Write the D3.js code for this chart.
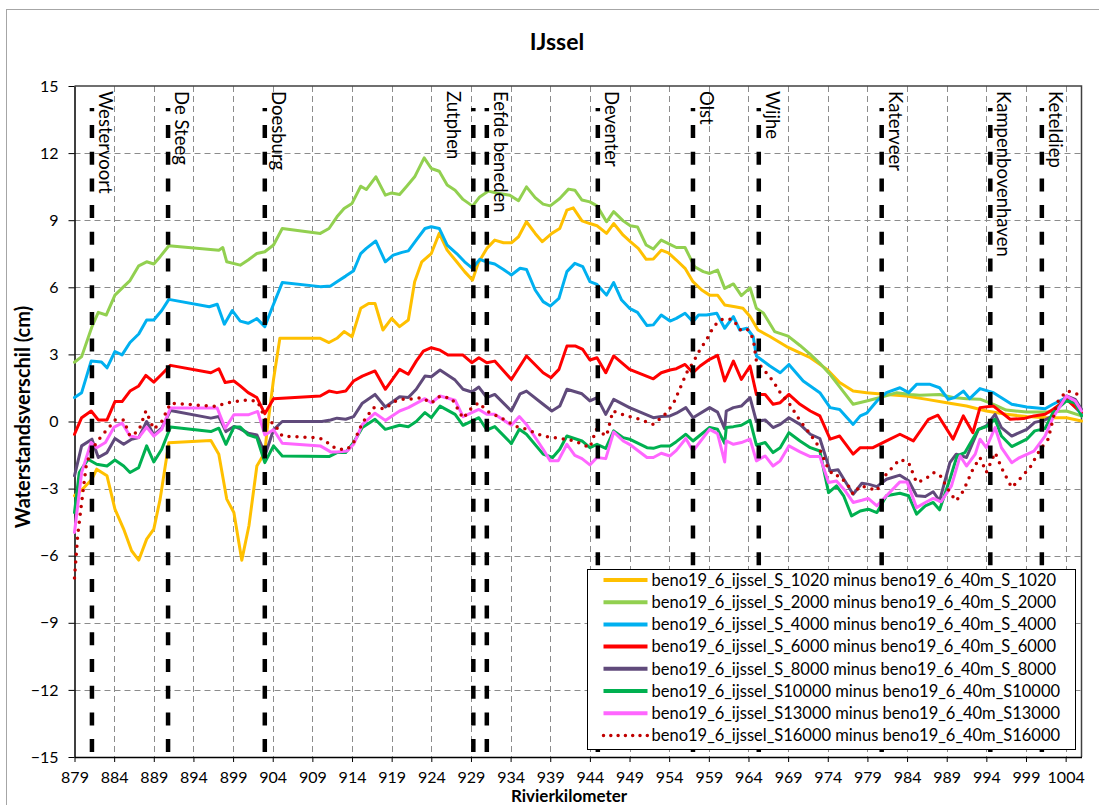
<!DOCTYPE html>
<html>
<head>
<meta charset="utf-8">
<script src="https://cdn.jsdelivr.net/npm/d3@7"></script>
<style>
  body { margin: 0; background: #fff; }
  text { font-family: Lato, "Liberation Sans", sans-serif; fill: #000; }
</style>
</head>
<body>
<svg id="chart" width="1099" height="805"></svg>
<script>
// Tick labels
const xTicks = d3.range(879, 1005, 5);
const yTicks = d3.range(-15, 16, 3);

// Locations along the river (km)
const stationNames = ["Westervoort", "De Steeg", "Doesburg", "Zutphen", "Eefde beneden", "Deventer",
    "Olst", "Wijhe", "Katerveer", "Kampenbovenhaven", "Keteldiep"];
const stationKm = [881.2, 890.8, 903.0, 929.3, 931.0, 945.0, 957.0, 965.3, 980.8, 994.5, 1001.0];

const seriesNames = [
    "beno19_6_ijssel_S_1020 minus beno19_6_40m_S_1020",
    "beno19_6_ijssel_S_2000 minus beno19_6_40m_S_2000",
    "beno19_6_ijssel_S_4000 minus beno19_6_40m_S_4000",
    "beno19_6_ijssel_S_6000 minus beno19_6_40m_S_6000",
    "beno19_6_ijssel_S_8000 minus beno19_6_40m_S_8000",
    "beno19_6_ijssel_S10000 minus beno19_6_40m_S10000",
    "beno19_6_ijssel_S13000 minus beno19_6_40m_S13000",
    "beno19_6_ijssel_S16000 minus beno19_6_40m_S16000"
];
const seriesColors = ["#FFC000", "#92D050", "#00B0F0", "#FF0000", "#604A7B", "#00B050", "#FF66FF", "#C00000"];

// [rivierkilometer, waterstandsverschil (cm)]
const s1020 = [[879.0,-3.32],[880.0,-3.03],[881.2,-2.58],[881.8,-2.13],[883.1,-2.43],[884.1,-3.92],[885.2,-4.81],
    [886.2,-5.78],[887.1,-6.2],[888.1,-5.26],[889.0,-4.81],[889.8,-3.47],[890.9,-0.95],[896.2,-0.85],[897.2,-1.46],
    [898.2,-3.47],[899.1,-4.07],[900.1,-6.2],[901.0,-4.66],[902.0,-1.99],[903.0,-1.39],[903.3,-0.35],[904.1,1.88],
    [904.9,3.72],[910.0,3.72],[911.1,3.53],[912.1,3.72],[913.0,4.02],[914.0,3.79],[915.1,5.06],[916.1,5.28],
    [916.9,5.28],[917.9,4.09],[919.0,4.61],[920.0,4.24],[921.1,4.54],[921.9,6.25],[922.8,7.14],[924.0,7.51],
    [925.0,8.41],[926.0,7.66],[927.2,7.14],[928.2,6.70],[929.2,6.32],[929.9,7.07],[931.0,7.74],[932.0,8.11],
    [933.1,7.99],[934.1,7.99],[935.0,8.26],[936.0,8.93],[937.1,8.41],[938.0,8.04],[939.2,8.41],[940.2,8.63],
    [941.1,9.45],[941.9,9.55],[943.0,8.97],[944.0,8.85],[944.9,8.75],[946.1,8.41],[947.0,8.85],[948.2,8.33],
    [949.1,8.04],[950.1,7.74],[951.1,7.25],[952.0,7.26],[953.0,7.66],[953.9,7.54],[954.9,7.22],[956.0,6.85],
    [957.0,6.25],[958.1,5.88],[959.1,5.65],[960.1,5.65],[961.0,5.21],[962.3,5.13],[963.3,5.06],[964.2,4.69],
    [965.2,4.09],[966.7,3.80],[968.8,3.35],[970.9,3.0],[971.8,2.85],[973.9,2.33],[975.5,1.74],[977.2,1.36],
    [978.9,1.29],[981.4,1.21],[983.9,1.14],[986.5,0.99],[989.0,0.84],[991.5,0.69],[994.0,0.47],[996.5,0.32],
    [999.1,0.22],[1001.6,0.17],[1004.1,0.17],[1006.0,0.02]];
const s2000 = [[879.0,2.65],[879.9,2.9],[881.2,4.24],[882.0,4.88],[883.0,4.76],[884.1,5.65],[885.2,6.03],[886.0,6.3],
    [887.1,6.96],[888.1,7.14],[889.0,7.04],[889.8,7.37],[890.9,7.86],[897.2,7.66],[897.7,7.78],[898.2,7.14],
    [899.9,6.99],[900.9,7.22],[902.0,7.51],[903.0,7.59],[904.1,7.89],[905.2,8.63],[910.0,8.41],[911.1,8.63],
    [912.1,9.15],[913.0,9.52],[914.0,9.75],[915.1,10.52],[915.8,10.37],[917.0,10.94],[918.2,10.12],[919.0,10.22],
    [920.0,10.15],[920.9,10.52],[921.9,10.94],[923.1,11.79],[924.0,11.31],[925.0,11.19],[926.0,10.57],[927.0,10.34],
    [928.0,9.93],[929.2,9.63],[930.1,10.04],[931.2,10.30],[932.2,10.22],[933.9,10.12],[935.0,9.87],[936.0,10.49],
    [937.1,10.01],[938.1,9.72],[939.0,9.64],[940.2,9.97],[941.3,10.39],[942.1,10.34],[943.0,9.90],[944.0,9.82],
    [944.9,9.64],[946.1,8.93],[947.0,9.38],[948.2,8.97],[949.1,8.75],[950.0,8.70],[951.1,7.89],[952.0,7.71],
    [953.0,8.11],[954.1,7.92],[954.9,7.78],[956.0,7.78],[957.2,6.92],[958.3,6.70],[959.1,6.62],[960.1,6.77],
    [961.0,5.95],[962.1,6.15],[963.1,5.63],[964.2,5.98],[965.0,5.06],[965.9,4.84],[967.3,4.02],[969.0,3.82],
    [970.5,3.4],[971.8,3.0],[973.0,2.6],[974.3,2.1],[975.5,1.55],[977.2,0.77],[978.9,0.92],[980.6,1.07],
    [982.7,1.29],[984.4,1.21],[985.6,1.17],[988.1,1.21],[989.8,1.07],[991.5,1.02],[993.2,1.0],[994.9,0.77],
    [996.5,0.51],[999.1,0.42],[1001.6,0.42],[1004.1,0.47],[1006.0,0.25]];
const s4000 = [[879.0,1.07],[879.9,1.29],[881.1,2.70],[882.4,2.66],[883.1,2.40],[884.1,3.13],[885.0,2.98],[886.0,3.53],
    [887.1,3.91],[888.1,4.54],[889.0,4.54],[890.0,4.96],[890.9,5.46],[896.0,5.13],[897.0,5.24],[897.9,4.35],
    [898.9,4.96],[899.9,4.49],[900.9,4.39],[902.0,4.60],[903.0,4.24],[903.9,5.06],[905.2,6.21],[910.0,6.03],
    [911.3,6.06],[912.1,6.25],[913.2,6.50],[914.2,6.74],[915.1,7.51],[915.8,7.74],[917.0,8.07],[918.2,7.14],
    [919.2,7.44],[920.3,7.56],[921.1,7.63],[922.1,8.11],[923.2,8.63],[924.0,8.71],[925.0,8.63],[926.0,7.89],
    [927.2,7.51],[928.2,7.14],[929.2,6.85],[930.1,7.25],[931.2,7.11],[932.0,7.04],[933.1,6.80],[934.1,6.55],
    [935.2,6.85],[936.0,6.80],[937.1,5.88],[938.1,5.36],[939.0,5.16],[940.1,5.51],[941.1,6.70],[942.1,7.07],
    [943.1,6.92],[944.0,6.25],[944.9,6.13],[946.1,5.65],[947.0,6.21],[948.0,5.43],[949.0,5.06],[950.0,4.88],
    [951.2,4.29],[952.0,4.32],[953.0,4.76],[954.1,4.49],[954.9,4.61],[956.0,4.84],[957.0,4.46],[957.7,4.76],
    [958.7,4.76],[960.0,4.84],[961.0,4.17],[962.1,4.69],[962.9,4.09],[963.8,4.17],[964.6,3.79],[965.0,2.93],
    [966.7,2.48],[968.0,2.18],[969.1,2.55],[970.9,1.81],[973.0,1.29],[974.3,0.62],[975.5,0.54],[977.2,-0.13],
    [978.1,0.25],[978.9,0.37],[980.2,0.92],[981.4,1.29],[983.1,1.51],[984.2,1.29],[985.2,1.66],[986.9,1.66],
    [988.1,1.51],[989.2,0.99],[990.0,1.07],[991.1,1.36],[991.9,1.02],[993.2,1.47],[994.9,1.29],[997.2,0.77],
    [999.1,0.65],[1001.4,0.57],[1002.4,0.77],[1004.1,1.07],[1006.0,0.32]];
const s6000 = [[879.0,-0.57],[879.9,0.17],[881.1,0.47],[882.0,0.07],[883.1,0.07],[884.1,0.89],[885.0,0.89],[886.0,1.36],
    [887.1,1.59],[888.0,2.06],[889.0,1.76],[890.0,2.11],[891.1,2.51],[896.2,2.18],[897.2,2.36],[898.0,1.74],
    [899.1,1.81],[899.9,1.59],[900.9,1.29],[902.0,1.07],[903.0,0.35],[904.1,1.02],[910.0,1.14],[911.1,1.36],
    [912.1,1.29],[913.2,1.36],[914.2,1.81],[915.3,2.03],[916.9,2.26],[918.2,1.44],[920.0,2.33],[921.1,2.11],
    [922.1,2.70],[923.0,3.15],[924.0,3.30],[925.1,3.19],[926.1,2.97],[928.0,2.97],[929.1,2.63],[930.0,2.85],
    [931.0,2.63],[932.0,2.70],[934.1,1.88],[936.0,2.93],[938.1,2.18],[939.1,1.96],[940.1,2.33],[941.1,3.37],
    [942.2,3.37],[943.1,3.22],[944.0,2.75],[944.9,2.85],[946.0,2.18],[947.0,2.93],[949.0,2.33],[952.0,1.91],
    [953.0,2.18],[954.1,2.30],[954.9,2.36],[956.0,2.55],[957.0,2.18],[957.9,2.48],[959.1,2.78],[960.1,2.96],
    [961.0,1.81],[962.1,2.70],[963.1,1.88],[964.2,2.48],[965.0,1.21],[966.1,1.21],[967.1,0.77],[968.0,0.84],
    [969.1,1.21],[970.5,0.77],[971.8,0.47],[973.0,0.25],[974.3,-0.79],[975.5,-0.65],[977.2,-1.46],[978.1,-1.17],
    [979.7,-1.17],[981.4,-0.87],[983.1,-0.57],[984.8,-0.87],[986.7,0.10],[987.9,0.28],[989.8,-0.79],[991.1,0.25],
    [992.3,-0.5],[993.2,0.62],[994.9,0.69],[997.0,0.10],[998.7,0.13],[1000.0,0.25],[1001.4,0.32],[1002.4,0.54],
    [1004.1,0.99],[1006.0,0.40]];
const s8000 = [[879.0,-2.43],[879.9,-1.09],[881.2,-0.79],[882.0,-1.61],[883.1,-1.39],[884.1,-0.76],[885.2,-1.02],
    [886.2,-0.79],[887.1,-0.72],[888.1,0.00],[889.0,-0.60],[890.0,-0.30],[891.1,0.49],[896.2,0.15],[897.2,0.22],
    [898.1,-0.45],[899.1,-0.22],[899.9,-0.33],[900.9,-0.52],[902.0,-0.60],[902.8,-1.24],[903.0,-1.54],[904.1,-0.37],
    [905.2,0.00],[910.2,0.00],[911.3,0.07],[912.1,0.15],[913.2,0.10],[914.2,0.22],[915.3,0.82],[916.9,1.21],
    [918.2,0.65],[920.0,1.11],[921.1,1.07],[922.1,1.44],[923.2,2.03],[924.0,2.00],[925.1,2.30],[927.0,1.85],
    [928.0,1.44],[929.1,1.32],[930.0,1.54],[931.0,1.07],[932.0,1.21],[934.1,0.47],[935.2,1.24],[936.0,1.36],
    [938.1,0.77],[939.2,0.47],[940.2,0.69],[941.1,1.44],[943.0,1.24],[944.0,0.92],[944.9,1.07],[946.0,0.32],
    [947.0,0.99],[949.0,0.62],[952.0,0.17],[953.0,0.22],[954.1,0.25],[954.9,0.37],[956.1,0.62],[957.0,0.17],
    [959.1,0.62],[960.1,0.42],[961.0,-0.32],[961.2,0.47],[962.1,0.62],[963.1,0.69],[964.2,1.07],[965.0,0.00],
    [966.1,0.07],[967.1,-0.27],[968.0,-0.13],[969.1,0.17],[970.5,-0.13],[971.8,-0.57],[973.0,-0.76],[974.3,-2.21],
    [975.3,-2.16],[977.2,-3.25],[978.3,-2.76],[979.1,-2.80],[980.2,-2.91],[981.4,-2.58],[983.1,-2.40],[984.2,-2.65],
    [985.2,-3.32],[986.3,-3.35],[987.3,-3.14],[988.1,-3.55],[989.4,-1.84],[990.2,-1.46],[991.5,-1.61],[993.0,-0.35],
    [994.0,-0.20],[995.1,0.32],[995.9,-0.27],[997.2,-0.65],[999.1,-0.35],[1000.1,-0.04],[1001.4,0.07],[1002.4,0.25],
    [1004.1,1.14],[1005.2,0.99],[1006.0,0.54]];
const s10000 = [[879.0,-4.07],[879.6,-2.28],[880.7,-1.69],[881.8,-1.91],[883.1,-1.99],[884.1,-1.72],[885.2,-1.99],
    [886.0,-2.28],[887.1,-2.06],[888.1,-1.09],[889.0,-1.81],[890.0,-1.24],[891.1,-0.25],[896.2,-0.45],[897.2,-0.30],
    [898.1,-1.02],[899.1,-0.25],[899.9,-0.25],[900.9,-0.60],[902.0,-0.72],[903.0,-1.84],[904.1,-1.09],[905.2,-1.54],
    [911.1,-1.57],[912.1,-1.39],[913.2,-1.39],[914.2,-0.94],[915.3,-0.27],[916.9,0.10],[918.2,-0.35],[920.0,-0.17],
    [921.1,-0.23],[922.1,0.00],[923.2,0.40],[924.0,0.17],[925.1,0.69],[927.0,0.32],[928.0,-0.17],[930.0,0.17],
    [931.0,-0.38],[932.0,-0.23],[934.1,-0.99],[935.1,-0.35],[936.0,-0.57],[938.1,-1.46],[939.3,-1.61],[940.2,-1.24],
    [941.1,-0.65],[943.0,-0.87],[944.0,-1.17],[944.9,-1.02],[946.0,-1.20],[947.0,-0.42],[948.2,-0.72],[949.0,-0.79],
    [951.2,-1.17],[952.0,-1.20],[953.0,-1.09],[954.1,-1.09],[954.9,-0.90],[956.1,-0.57],[957.0,-0.87],[959.1,-0.27],
    [960.1,-0.35],[961.0,-0.97],[961.2,-0.27],[962.1,-0.23],[963.1,-0.17],[964.2,0.05],[965.0,-1.06],[966.1,-0.94],
    [967.1,-1.39],[968.0,-1.17],[969.1,-0.50],[970.5,-0.87],[971.8,-1.17],[973.0,-1.32],[974.1,-3.18],[975.1,-2.88],
    [976.0,-3.32],[977.0,-4.22],[978.1,-4.00],[979.1,-3.92],[980.2,-4.07],[981.4,-3.32],[983.1,-3.21],[984.2,-3.32],
    [985.2,-4.14],[986.3,-3.77],[987.3,-3.62],[988.1,-3.95],[989.4,-2.58],[990.3,-1.54],[991.3,-1.39],[993.0,-0.35],
    [994.0,-0.23],[995.1,0.10],[995.9,-0.65],[997.2,-1.12],[999.1,-0.79],[1000.1,-0.42],[1001.4,-0.32],[1002.4,0.40],
    [1004.1,0.92],[1005.2,0.84],[1006.0,0.25]];
const s13000 = [[879.0,-4.96],[879.9,-2.28],[881.1,-0.94],[881.8,-1.17],[882.9,-0.94],[884.0,-0.25],[885.0,-0.07],
    [886.0,-0.65],[887.1,-0.72],[888.1,-0.25],[889.0,-0.65],[890.0,-0.35],[891.1,0.60],[897.0,0.60],[898.0,-0.30],
    [899.1,0.30],[900.9,0.30],[902.1,0.45],[903.0,-0.60],[904.1,-0.37],[905.2,-0.97],[910.0,-1.09],[911.3,-1.36],
    [912.1,-1.36],[913.4,-1.32],[914.2,-1.02],[915.3,-0.13],[916.9,0.37],[918.2,0.05],[920.0,0.47],[921.1,0.62],
    [923.2,1.02],[924.0,0.84],[925.1,1.14],[927.0,0.95],[928.0,0.22],[930.0,0.54],[931.0,0.32],[932.0,0.32],
    [934.1,-0.17],[935.1,0.22],[936.0,-0.13],[938.1,-1.24],[939.0,-1.76],[940.0,-1.76],[941.1,-1.02],[942.1,-1.51],
    [943.0,-1.66],[944.0,-1.94],[944.9,-1.61],[946.0,-1.66],[947.0,-0.47],[948.2,-0.87],[949.0,-1.02],[951.2,-1.61],
    [952.0,-1.61],[953.0,-1.42],[954.1,-1.54],[954.9,-1.29],[956.1,-0.76],[957.0,-1.32],[959.1,-0.35],[960.1,-0.54],
    [961.0,-1.81],[961.2,-0.87],[962.1,-1.02],[963.1,-0.94],[964.2,-0.79],[965.0,-1.76],[966.1,-1.54],[967.1,-1.99],
    [968.0,-1.76],[969.1,-1.09],[970.5,-1.36],[971.8,-1.57],[973.0,-1.57],[974.1,-2.73],[975.1,-2.66],[976.2,-3.10],
    [977.2,-3.62],[978.3,-3.52],[979.1,-3.44],[980.2,-3.77],[981.4,-3.32],[983.1,-2.70],[984.0,-2.70],[985.2,-3.85],
    [986.3,-3.62],[987.3,-3.44],[988.3,-3.59],[989.6,-2.88],[990.7,-1.54],[991.5,-1.99],[992.6,-1.46],[993.2,-0.79],
    [994.0,-1.17],[995.1,-0.27],[995.9,-1.17],[997.2,-1.84],[998.2,-1.61],[1000.0,-1.32],[1001.4,-0.65],
    [1002.4,0.17],[1004.1,1.14],[1005.2,0.92],[1006.0,0.47]];
const s16000 = [[879.0,-7.0],[879.4,-5.11],[879.9,-3.62],[880.5,-1.91],[881.2,-1.24],[882.4,-0.65],[883.4,-0.25],
    [884.1,0.07],[885.2,0.07],[886.0,-0.65],[887.1,-0.42],[888.0,0.47],[889.0,-0.34],[890.0,0.00],[891.1,0.82],
    [897.0,0.67],[898.0,0.82],[899.1,0.89],[900.9,0.97],[902.1,0.89],[903.2,0.00],[904.1,-0.07],[905.2,-0.65],
    [909.1,-0.72],[910.4,-0.79],[911.3,-1.06],[912.1,-1.24],[913.4,-1.24],[914.2,-0.94],[915.3,-0.07],[916.7,0.62],
    [918.2,0.57],[919.2,0.87],[920.3,0.99],[921.1,0.99],[922.8,1.07],[924.0,0.82],[925.1,1.14],[926.6,1.02],
    [928.0,0.14],[929.1,0.62],[930.0,0.84],[931.0,0.47],[933.1,0.10],[934.8,-0.23],[936.0,-0.35],[938.1,-0.65],
    [940.2,-0.76],[942.1,-0.87],[944.0,-1.17],[944.8,-0.35],[946.1,-0.65],[946.9,0.47],[948.6,0.25],[950.3,0.10],
    [952.0,-0.13],[953.3,0.25],[954.5,0.77],[955.4,1.51],[956.2,2.18],[957.0,2.63],[957.9,3.22],[958.7,3.65],
    [959.6,4.24],[960.4,4.54],[961.2,4.6],[962.1,4.55],[962.9,4.1],[963.8,4.15],[964.6,3.7],[965.0,2.70],
    [965.9,2.33],[967.1,1.81],[968.0,1.29],[969.2,0.77],[970.5,0.03],[971.8,-0.57],[972.8,-1.09],[973.9,-1.99],
    [974.7,-2.43],[975.5,-2.43],[976.6,-2.88],[977.2,-3.25],[978.1,-2.88],[979.1,-2.95],[980.2,-3.10],[981.2,-2.43],
    [982.3,-1.99],[983.1,-1.69],[984.2,-1.84],[985.2,-2.73],[986.3,-2.58],[987.3,-2.28],[988.1,-2.36],[989.4,-3.18],
    [990.2,-3.55],[991.1,-3.10],[992.3,-2.13],[993.2,-1.61],[994.0,-2.28],[995.1,-1.39],[996.1,-2.21],[997.2,-2.95],
    [998.2,-2.58],[999.5,-2.06],[1000.8,-1.24],[1001.8,-0.79],[1002.9,0.84],[1004.1,1.36],[1005.2,1.29],
    [1006.0,1.07]];
const allSeries = [s1020, s2000, s4000, s6000, s8000, s10000, s13000, s16000];

/**************************************************************************************************/
/* Chart */
const svg = d3.select("#chart");
const x = d3.scaleLinear().domain([879, 1006]).range([74.5, 1081.5]);
const y = d3.scaleLinear().domain([-15, 15]).range([757, 86]);

// outer chart border (runs off the picture at right and bottom)
svg.append("rect")
    .attr("x", 6.5).attr("y", 9.5).attr("width", 1200).attr("height", 900)
    .attr("fill", "none").attr("stroke", "#a6a6a6").attr("stroke-width", 1);

svg.append("text")
    .text("IJssel")
    .attr("x", 557).attr("y", 50)
    .attr("text-anchor", "middle")
    .attr("font-size", 23).attr("font-weight", "bold");

// gridlines
const grid = svg.append("g")
    .attr("stroke", "#8c8c8c").attr("stroke-width", 1).attr("stroke-dasharray", "6 4");
grid.selectAll(".vgrid")
    .data(xTicks.slice(1))
    .join("line")
        .attr("x1", d => Math.round(x(d)) + 0.5).attr("x2", d => Math.round(x(d)) + 0.5)
        .attr("y1", y(15)).attr("y2", y(-15));
grid.selectAll(".hgrid")
    .data(yTicks.filter(d => d > -15 && d < 15))
    .join("line")
        .attr("x1", x(879)).attr("x2", x(1006))
        .attr("y1", d => Math.round(y(d)) + 0.5).attr("y2", d => Math.round(y(d)) + 0.5);

// plot frame (top and right)
svg.append("path")
    .attr("d", `M${x(879)},${y(15)}H${x(1006)}V${y(-15)}`)
    .attr("fill", "none").attr("stroke", "#404040").attr("stroke-width", 1.5);

// axes
const xAxis = svg.append("g")
    .attr("transform", `translate(0,${y(-15)})`)
    .call(d3.axisBottom(x).tickValues(xTicks).tickFormat(d3.format("d"))
        .tickSize(5).tickSizeOuter(0).tickPadding(10));
const yAxis = svg.append("g")
    .attr("transform", `translate(${x(879)},0)`)
    .call(d3.axisLeft(y).tickValues(yTicks).tickFormat(d3.format("d"))
        .tickSize(6).tickSizeOuter(0).tickPadding(10));
[xAxis, yAxis].forEach(g => {
    g.select(".domain").attr("stroke", "#000").attr("stroke-width", 1.5);
    g.selectAll(".tick line").attr("stroke", "#000").attr("stroke-width", 1);
    g.selectAll(".tick text")
        .attr("font-family", "Lato, sans-serif").attr("font-size", 16).attr("fill", "#000");
});

svg.append("text")
    .text("Waterstandsverschil (cm)")
    .attr("transform", `translate(30,417) rotate(-90)`)
    .attr("text-anchor", "middle")
    .attr("font-size", 20).attr("font-weight", "bold");
svg.append("text")
    .text("Rivierkilometer")
    .attr("x", 569).attr("y", 802)
    .attr("text-anchor", "middle")
    .attr("font-size", 17).attr("font-weight", "bold");

// series
const line = d3.line().x(d => x(d[0])).y(d => y(d[1]));
svg.append("g")
    .selectAll("path")
    .data(allSeries)
    .join("path")
        .attr("d", line)
        .attr("fill", "none")
        .attr("stroke", (d, i) => seriesColors[i])
        .attr("stroke-width", (d, i) => i === 7 ? 3.5 : 3)
        .attr("stroke-linejoin", "round")
        .attr("stroke-linecap", "round")
        .attr("stroke-dasharray", (d, i) => i === 7 ? "0 8" : null);

// stations; Zutphen's name sits left of its line, the others to the right
const stations = svg.append("g")
    .selectAll("g")
    .data(d3.zip(stationNames, stationKm))
    .join("g");
stations.append("line")
    .attr("x1", ([n, km]) => x(km)).attr("x2", ([n, km]) => x(km))
    .attr("y1", y(-15)).attr("y2", 108)
    .attr("stroke", "#000").attr("stroke-width", 4.5)
    .attr("stroke-dasharray", "13 13.7").attr("stroke-dashoffset", 21.8);
stations.append("text")
    .text(([n, km]) => n)
    .attr("transform", ([n, km]) => `translate(${x(km) + (n === "Zutphen" ? -26 : 7)},91) rotate(90)`)
    .attr("font-size", 18.5);

// legend
const legend = svg.append("g").attr("transform", "translate(587.5,569.5)");
legend.append("rect")
    .attr("width", 488).attr("height", 180)
    .attr("fill", "#fff").attr("stroke", "#000").attr("stroke-width", 1);
const rows = legend.selectAll(".row")
    .data(seriesNames)
    .join("g")
        .attr("transform", (d, i) => `translate(0,${10.5 + i * 22.2})`);
rows.append("line")
    .attr("x1", 16).attr("x2", 60)
    .attr("stroke", (d, i) => seriesColors[i])
    .attr("stroke-width", (d, i) => i === 7 ? 3.5 : 4)
    .attr("stroke-linecap", (d, i) => i === 7 ? "round" : "butt")
    .attr("stroke-dasharray", (d, i) => i === 7 ? "0 7.3" : null);
rows.append("text")
    .text(d => d)
    .attr("x", 64).attr("dy", "0.35em")
    .attr("font-size", 16.5);
</script>
</body>
</html>
